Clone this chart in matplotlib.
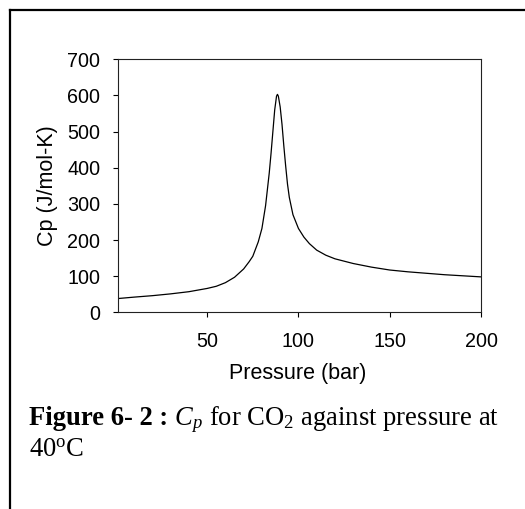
import matplotlib
matplotlib.use("Agg")
import matplotlib.pyplot as plt
from matplotlib.lines import Line2D

# Data (pressure in bar, Cp in J/mol-K)
pressure = [1, 10, 20, 30, 40, 50, 55, 60, 65, 70, 73, 75, 78, 80, 82, 84, 85,
            86, 87, 88, 88.5, 89, 90, 91, 92, 93, 94, 95, 97, 100, 103, 106,
            110, 115, 120, 130, 140, 150, 160, 170, 180, 190, 200]
cp = [38, 42, 46, 51, 57, 66, 72, 82, 97, 120, 140, 155, 195, 232, 295, 385,
      440, 500, 560, 598, 603, 598, 568, 520, 460, 405, 355, 318, 270, 232,
      208, 190, 172, 158, 148, 135, 125, 117, 112, 108, 104, 101, 98]

xticks = [50, 100, 150, 200]
yticks = [0, 100, 200, 300, 400, 500, 600, 700]

plt.rcParams['mathtext.fontset'] = 'custom'
plt.rcParams['mathtext.rm'] = 'Liberation Serif'
plt.rcParams['mathtext.it'] = 'Liberation Serif:italic'
plt.rcParams['mathtext.bf'] = 'Liberation Serif:bold'

W, H = 525, 509
fig = plt.figure(figsize=(W / 100, H / 100), dpi=100)
fig.patch.set_facecolor('white')

ax = fig.add_axes([117.7 / W, 1 - 312.3 / H, (481 - 117.7) / W, (312.3 - 59.3) / H])
ax.plot(pressure, cp, color='black', lw=0.9)
ax.set_xlim(1, 200)
ax.set_ylim(0, 700)
ax.set_xticks(xticks)
ax.set_yticks(yticks)
sans = 'Liberation Sans'
for lab in ax.get_xticklabels() + ax.get_yticklabels():
    lab.set_family(sans)
    lab.set_fontsize(14.2)
ax.tick_params(axis='y', direction='out', length=3.5, width=0.8, pad=9, colors='black')
ax.tick_params(axis='x', direction='out', length=3.5, width=0.8, pad=11, colors='black')
for s in ax.spines.values():
    s.set_linewidth(0.8)
    s.set_color('#222222')

fig.text(298 / W, 1 - 373 / H, 'Pressure (bar)', family=sans, fontsize=15.5,
         ha='center', va='center')
fig.text(47 / W, 1 - 186 / H, 'Cp (J/mol-K)', family=sans, fontsize=15.5,
         ha='center', va='center', rotation=90)

# outer frame (left and top edges visible)
fig.add_artist(Line2D([10 / W, 10 / W], [0, 1 - 10 / H], transform=fig.transFigure,
                      color='black', lw=1.6))
fig.add_artist(Line2D([10 / W, 1], [1 - 10 / H, 1 - 10 / H], transform=fig.transFigure,
                      color='black', lw=1.6))

# caption
serif = 'Liberation Serif'
y1 = 1 - 425 / H
t1 = fig.text(29 / W, y1, 'Figure 6- 2 :', family=serif, weight='bold',
              fontsize=19.2, va='baseline', ha='left')
fig.canvas.draw()
bb = t1.get_window_extent(renderer=fig.canvas.get_renderer())
fig.text(bb.x1 / W, y1, r' $C_p$ for CO$_2$ against pressure at', family=serif,
         fontsize=19.2, va='baseline', ha='left')
fig.text(29 / W, 1 - 457 / H, r'40$^{\mathrm{o}}$C', family=serif,
         fontsize=19.2, va='baseline', ha='left')

fig.savefig('out.png', dpi=100, facecolor='white')
